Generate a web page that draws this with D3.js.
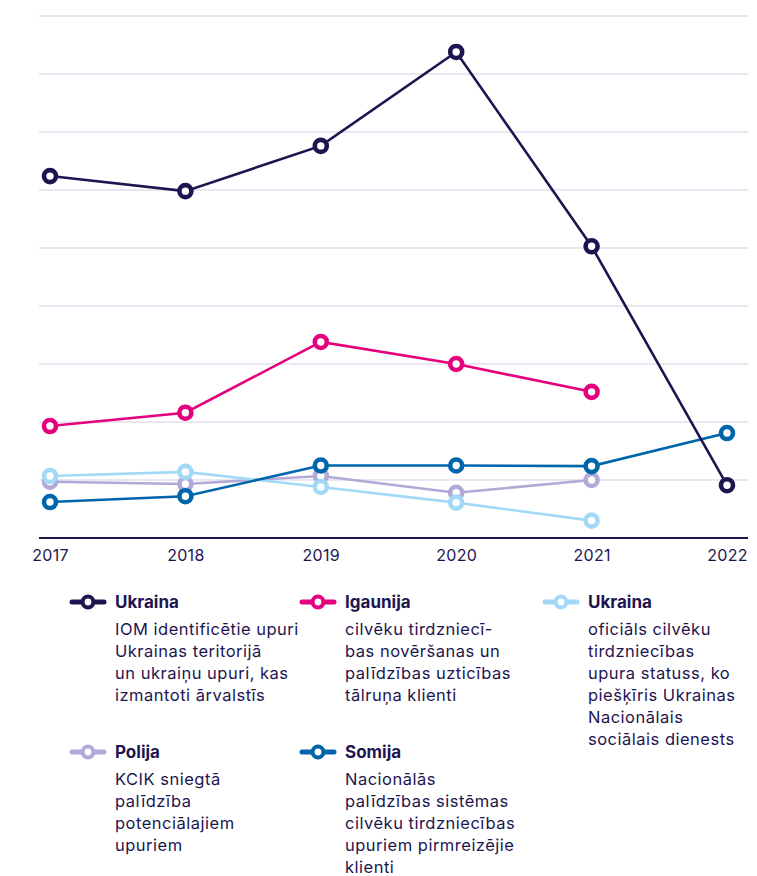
<!DOCTYPE html>
<html>
<head>
<meta charset="utf-8">
<script src="https://cdn.jsdelivr.net/npm/d3@7"></script>
<style>
  body { margin: 0; background: #fff; }
  svg { display: block; font-family: Inter, "Noto Sans", sans-serif; }
</style>
</head>
<body>
<svg id="chart" width="757" height="876"></svg>
<script>
// Data
const years = [2017, 2018, 2019, 2020, 2021, 2022];
const gridTicks = [100, 200, 300, 400, 500, 600, 700, 800, 900];

const ukrainaIom = [624, 598, 676, 838, 503, 91];
const igaunija = [193, 216, 338, 300, 252, null];
const ukrainaOfficial = [107, 114, 88, 61, 30, null];
const polija = [97, 93, 107, 78, 100, null];
const somija = [62, 72, 125, 125, 124, 181];

const series = [
    { name: 'Polija', values: polija, color: '#b3a9d6',
      lines: ['KCIK sniegtā', 'palīdzība', 'potenciālajiem', 'upuriem'], col: 0, row: 1 },
    { name: 'Ukraina', values: ukrainaOfficial, color: '#a2d9f7',
      lines: ['oficiāls cilvēku', 'tirdzniecības', 'upura statuss, ko', 'piešķīris Ukrainas', 'Nacionālais', 'sociālais dienests'], col: 2, row: 0 },
    { name: 'Somija', values: somija, color: '#0066ab',
      lines: ['Nacionālās', 'palīdzības sistēmas', 'cilvēku tirdzniecības', 'upuriem pirmreizējie', 'klienti'], col: 1, row: 1 },
    { name: 'Igaunija', values: igaunija, color: '#e5007d',
      lines: ['cilvēku tirdzniecī-', 'bas novēršanas un', 'palīdzības uzticības', 'tālruņa klienti'], col: 1, row: 0 },
    { name: 'Ukraina', values: ukrainaIom, color: '#1e1550',
      lines: ['IOM identificētie upuri', 'Ukrainas teritorijā', 'un ukraiņu upuri, kas', 'izmantoti ārvalstīs'], col: 0, row: 0 }
];

const navy = '#1e1550';
const svg = d3.select('#chart');

// Scales
const x = d3.scalePoint().domain(years).range([50, 727]);
const y = d3.scaleLinear().domain([0, 900]).range([538, 16]);

// Gridlines
svg.append('g')
    .selectAll('line')
    .data(gridTicks)
    .join('line')
    .attr('x1', 39)
    .attr('x2', 748)
    .attr('y1', d => y(d))
    .attr('y2', d => y(d))
    .attr('stroke', '#d3d0e4')
    .attr('stroke-width', 1.2);

// X axis
const xAxis = svg.append('g')
    .attr('transform', `translate(0,${y(0)})`)
    .call(d3.axisBottom(x).tickSize(0).tickPadding(12));
xAxis.select('.domain').remove();
xAxis.append('line')
    .attr('x1', 39).attr('x2', 748)
    .attr('stroke', navy).attr('stroke-width', 2.2);
xAxis.selectAll('text')
    .attr('fill', navy)
    .style('font-size', '16px')
    .style('letter-spacing', '0.3px')
    .style('font-family', 'Inter, "Noto Sans", sans-serif');

// Lines and markers
const line = d3.line()
    .defined(d => d.v !== null)
    .x(d => x(d.year))
    .y(d => y(d.v));

series.forEach(s => {
    const pts = years.map((year, i) => ({ year, v: s.values[i] }));
    const g = svg.append('g');
    g.append('path')
        .datum(pts)
        .attr('d', line)
        .attr('fill', 'none')
        .attr('stroke', s.color)
        .attr('stroke-width', 2.6);
    g.selectAll('circle')
        .data(pts.filter(d => d.v !== null))
        .join('circle')
        .attr('cx', d => x(d.year))
        .attr('cy', d => y(d.v))
        .attr('r', 6)
        .attr('fill', '#fff')
        .attr('stroke', s.color)
        .attr('stroke-width', 4.6);
});

// Legend
const colX = [70, 300, 543];
const rowY = [602, 752];
const legendOrder = [4, 3, 1, 0, 2];

legendOrder.forEach(idx => {
    const s = series[idx];
    const lx = colX[s.col];
    const ly = rowY[s.row];
    const g = svg.append('g').attr('transform', `translate(${lx},${ly})`);
    g.append('line')
        .attr('x1', 2).attr('x2', 34)
        .attr('stroke', s.color)
        .attr('stroke-width', 5)
        .attr('stroke-linecap', 'round');
    g.append('circle')
        .attr('cx', 18).attr('r', 5.4)
        .attr('fill', '#fff')
        .attr('stroke', s.color)
        .attr('stroke-width', 4);
    g.append('text')
        .attr('x', 45).attr('y', 6)
        .attr('fill', navy)
        .style('font-size', '17px')
        .style('font-weight', 700)
        .text(s.name);
    g.selectAll('text.desc')
        .data(s.lines)
        .join('text')
        .attr('class', 'desc')
        .attr('x', 45)
        .attr('y', (d, i) => 33 + i * 22)
        .attr('fill', navy)
        .style('font-size', '16.5px')
        .style('letter-spacing', '0.5px')
        .text(d => d);
});
</script>
</body>
</html>
